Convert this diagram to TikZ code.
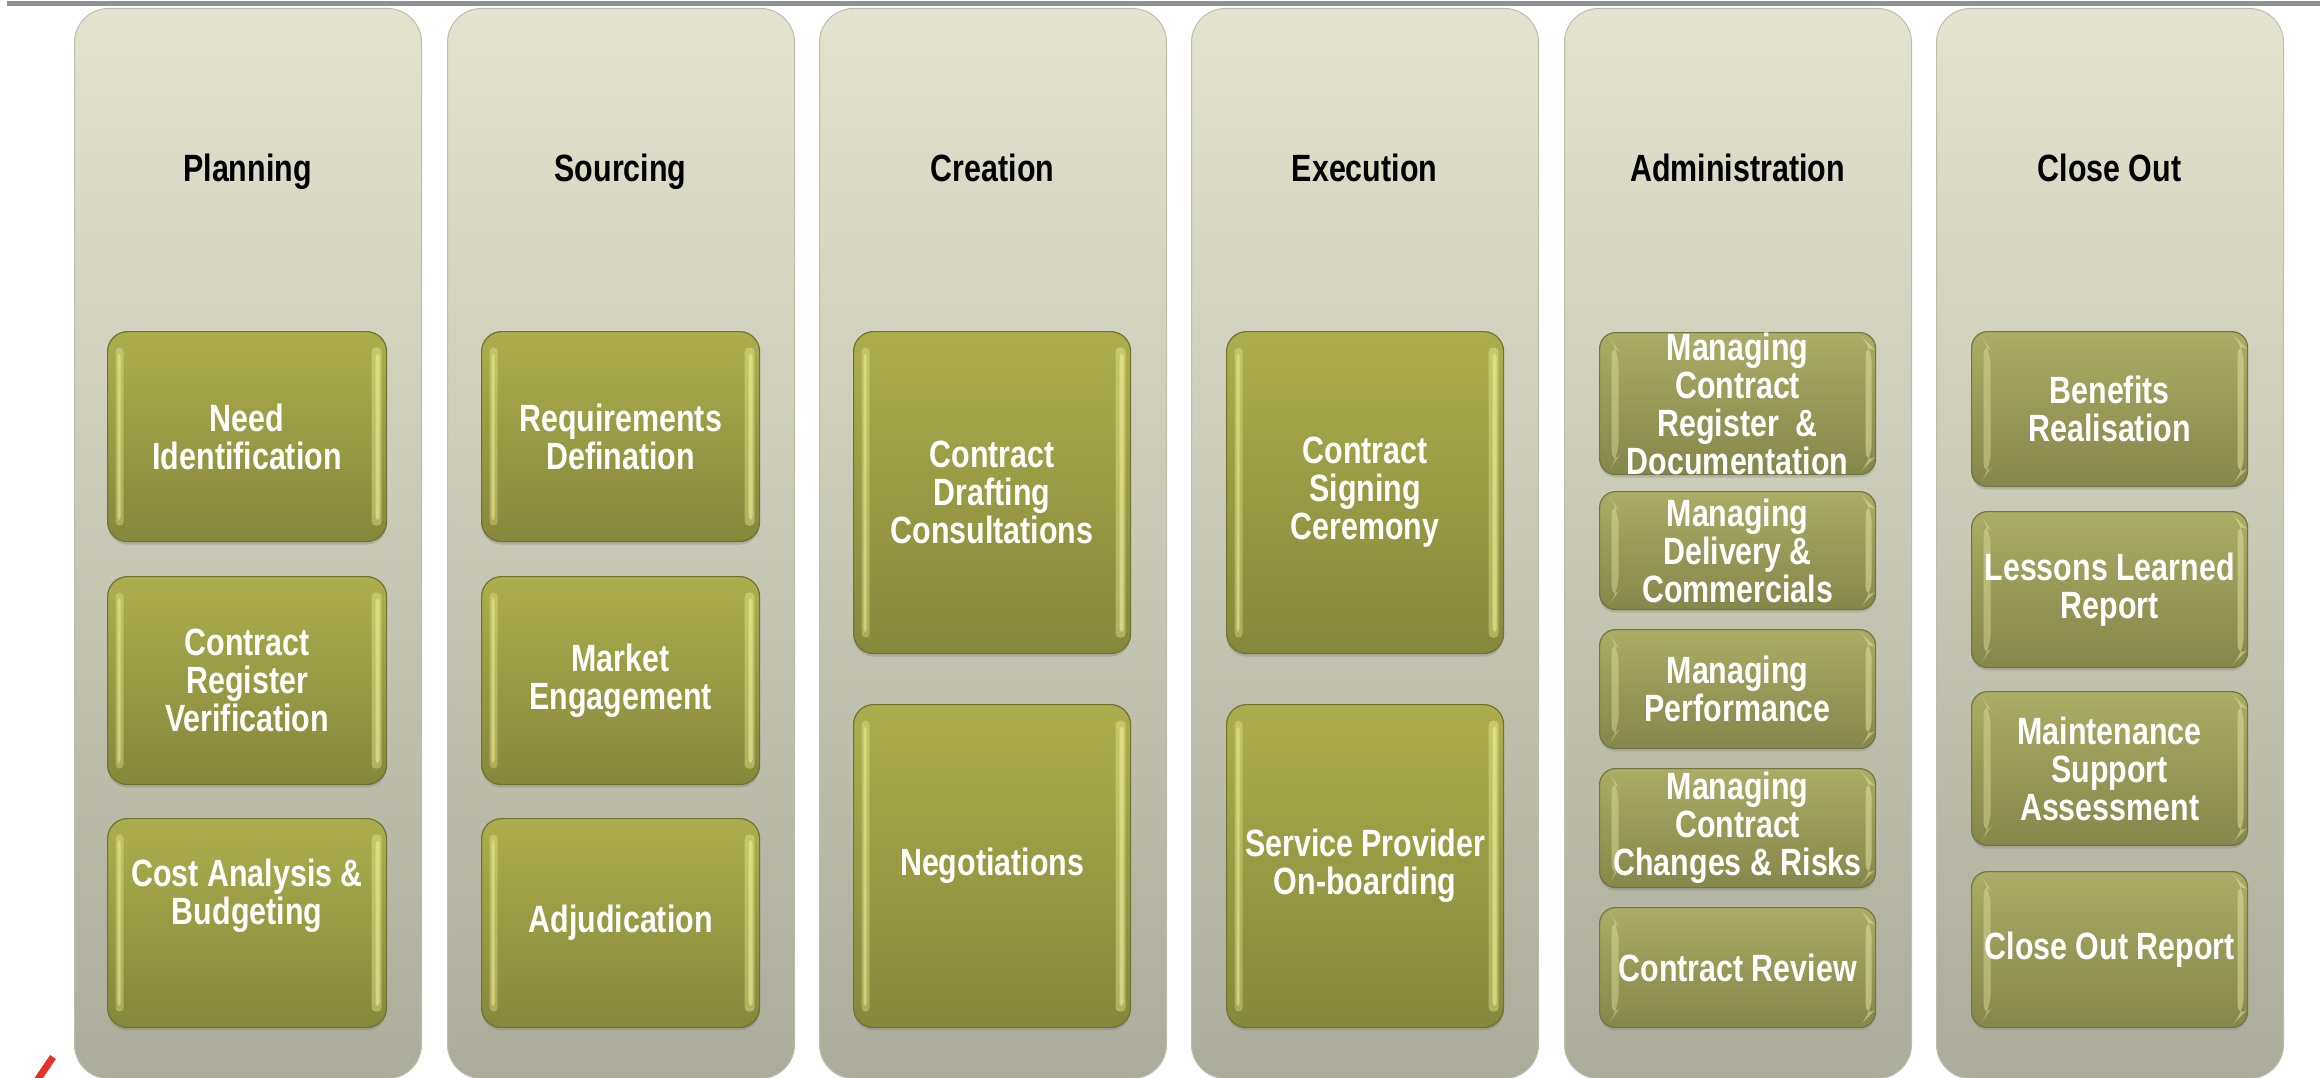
\documentclass[tikz,border=0pt]{standalone}
\usepackage{fontspec}
\newfontfamily\lbl{Liberation Sans}[FakeStretch=0.8]
\usetikzlibrary{shadows}
\definecolor{colTop}{HTML}{E3E3CF}
\definecolor{colMid}{HTML}{D0D1BC}
\definecolor{colBot}{HTML}{ABAC9B}
\definecolor{colEdge}{HTML}{BDBEAA}
\definecolor{gTop}{HTML}{ACAE4D}
\definecolor{gBot}{HTML}{85873B}
\definecolor{gEdge}{HTML}{70722E}
\definecolor{gHi}{HTML}{F0F29A}
\definecolor{bTop}{HTML}{ABAC65}
\definecolor{bBot}{HTML}{85864A}
\definecolor{bEdge}{HTML}{74743F}
\definecolor{bHi}{HTML}{E2E3A0}
\definecolor{topLine}{HTML}{8E9295}
\definecolor{markRed}{HTML}{E53227}
\tikzset{
  x=1pt, y=-1pt,
  phase/.style={rounded corners=34pt, top color=colTop, middle color=colMid, bottom color=colBot,
    draw=colEdge, line width=1pt, minimum width=347pt, minimum height=1070pt, inner sep=0pt,
    anchor=north west},
  head/.style={font=\lbl\bfseries\fontsize{38}{38}\selectfont, text=black, anchor=base, inner sep=0pt},
  boxtext/.style={font=\lbl\bfseries\fontsize{38}{38}\selectfont, text=white, align=center,
    inner sep=0pt, anchor=north west},
  gloss/.style={boxtext, rounded corners=20pt, top color=gTop, bottom color=gBot, draw=gEdge,
    line width=1.2pt,
    drop shadow={shadow xshift=0pt, shadow yshift=-3pt, opacity=0.35},
    path picture={
      \fill[gHi, opacity=0.35, rounded corners=4pt]
        ([xshift=8pt,yshift=-16pt]path picture bounding box.north west) rectangle
        ([xshift=16pt,yshift=16pt]path picture bounding box.south west);
      \fill[gHi, opacity=0.5, rounded corners=3pt]
        ([xshift=10pt,yshift=-22pt]path picture bounding box.north west) rectangle
        ([xshift=13pt,yshift=22pt]path picture bounding box.south west);
      \fill[gHi, opacity=0.4, rounded corners=4pt]
        ([xshift=-15pt,yshift=-16pt]path picture bounding box.north east) rectangle
        ([xshift=-5pt,yshift=16pt]path picture bounding box.south east);
      \fill[gHi, opacity=0.55, rounded corners=3pt]
        ([xshift=-11pt,yshift=-22pt]path picture bounding box.north east) rectangle
        ([xshift=-7pt,yshift=22pt]path picture bounding box.south east);
    }},
  bevel/.style={boxtext, rounded corners=16pt, top color=bTop, bottom color=bBot, draw=bEdge,
    line width=1.2pt,
    drop shadow={shadow xshift=0pt, shadow yshift=-3pt, opacity=0.3},
    path picture={
      \fill[bHi, opacity=0.45]
        ([xshift=12pt,yshift=-8pt]path picture bounding box.north west) --
        ([xshift=19pt,yshift=-18pt]path picture bounding box.north west) --
        ([xshift=19pt,yshift=18pt]path picture bounding box.south west) --
        ([xshift=12pt,yshift=8pt]path picture bounding box.south west) -- cycle;
      \fill[bHi, opacity=0.55]
        ([xshift=-10pt,yshift=-8pt]path picture bounding box.north east) --
        ([xshift=-4pt,yshift=-14pt]path picture bounding box.north east) --
        ([xshift=-4pt,yshift=14pt]path picture bounding box.south east) --
        ([xshift=-10pt,yshift=8pt]path picture bounding box.south east) -- cycle;
    }},
}
\begin{document}
\begin{tikzpicture}
\useasboundingbox[fill=white] (0,0) rectangle (2320,1078);
% top rule
\fill[topLine] (7,1.4) rectangle (2320,5.6);

% phase columns
\node[phase] (c1) at (74,8) {};
\node[phase] (c2) at (447,8) {};
\node[phase] (c3) at (819,8) {};
\node[phase] (c4) at (1191,8) {};
\node[phase] (c5) at (1564,8) {};
\node[phase] (c6) at (1936,8) {};

% headings
\node[head] (h1) at (247.5,182) {Planning};
\node[head] (h2) at (620.5,182) {Sourcing};
\node[head] (h3) at (992.5,182) {Creation};
\node[head] (h4) at (1364.5,182) {Execution};
\node[head] (h5) at (1737.5,182) {Administration};
\node[head] (h6) at (2109.5,182) {Close Out};

% Planning
\node[gloss, minimum width=279pt, minimum height=210pt] (p1) at (107,331) {Need\\Identification};
\node[gloss, minimum width=279pt, minimum height=208pt] (p2) at (107,576) {Contract\\Register\\Verification};
\node[gloss, minimum width=279pt, minimum height=209pt, text depth=62pt] (p3) at (107,818) {Cost Analysis \&\\Budgeting};

% Sourcing
\node[gloss, minimum width=278pt, minimum height=210pt] (s1) at (481,331) {Requirements\\Defination};
\node[gloss, minimum width=278pt, minimum height=208pt] (s2) at (481,576) {Market\\Engagement};
\node[gloss, minimum width=278pt, minimum height=209pt] (s3) at (481,818) {Adjudication};

% Creation
\node[gloss, minimum width=277pt, minimum height=322pt] (r1) at (853,331) {Contract\\Drafting\\Consultations};
\node[gloss, minimum width=277pt, minimum height=323pt] (r2) at (853,704) {Negotiations};

% Execution
\node[gloss, minimum width=277pt, minimum height=322pt] (e1) at (1226,331) {Contract\\Signing\\Ceremony};
\node[gloss, minimum width=277pt, minimum height=323pt] (e2) at (1226,704) {Service Provider\\On-boarding};

% Administration
\node[bevel, minimum width=276pt, minimum height=136pt] (a1) at (1599,332) {Managing\\Contract\\Register\ \ \&\\Documentation};
\node[bevel, minimum width=276pt, minimum height=118pt] (a2) at (1599,491) {Managing\\Delivery \&\\Commercials};
\node[bevel, minimum width=276pt, minimum height=119pt] (a3) at (1599,629) {Managing\\Performance};
\node[bevel, minimum width=276pt, minimum height=119pt] (a4) at (1599,768) {Managing\\Contract\\Changes \& Risks};
\node[bevel, minimum width=276pt, minimum height=120pt] (a5) at (1599,907) {Contract Review};

% Close Out
\node[bevel, minimum width=276pt, minimum height=155pt] (o1) at (1971,331) {Benefits\\Realisation};
\node[bevel, minimum width=276pt, minimum height=156pt] (o2) at (1971,511) {Lessons Learned\\Report};
\node[bevel, minimum width=276pt, minimum height=154pt] (o3) at (1971,691) {Maintenance\\Support\\Assessment};
\node[bevel, minimum width=276pt, minimum height=156pt] (o4) at (1971,871) {Close Out Report};

% red mark bottom left
\draw[markRed, line width=7pt] (36,1082) -- (53,1057);
\end{tikzpicture}
\end{document}
